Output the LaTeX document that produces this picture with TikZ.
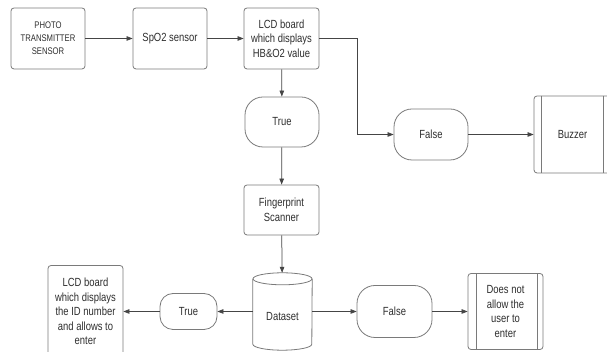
\documentclass[tikz,border=0pt]{standalone}
\usepackage{fontspec}
\setmainfont{Liberation Sans}[FakeStretch=0.8]
\usetikzlibrary{arrows.meta,calc}
\definecolor{txt}{HTML}{2E2E2E}
\definecolor{bline}{HTML}{7A7A7A}
\definecolor{aline}{HTML}{454545}
\begin{document}
\begin{tikzpicture}[x=1pt,y=1pt,
  box/.style={draw=bline,line width=0.8pt,rounded corners=3pt,inner sep=0pt,align=center,text=txt,
     font=\fontsize{11.8}{14.5}\selectfont,minimum width=#1},
  box/.default=75pt,
  term/.style={draw=bline,line width=0.8pt,rounded corners=#1,inner sep=0pt,align=center,text=txt,
     font=\fontsize{11.8}{14.5}\selectfont},
  plain/.style={inner sep=0pt,align=center,text=txt,font=\fontsize{11.8}{14.5}\selectfont},
  arr/.style={draw=aline,line width=0.75pt,-{Triangle[length=6pt,width=4.5pt]}},
  sub/.style={draw=bline,line width=0.8pt}
]
\useasboundingbox (0,0) rectangle (607,352);
\clip (0,0) rectangle (607,352);
\fill[white] (0,0) rectangle (607,352);

% top row
\node[box=74pt,minimum height=61pt,font=\fontsize{9.6}{13}\selectfont] (photo) at (48,313.5) {PHOTO\\TRANSMITTER\\SENSOR};
\node[box=74pt,minimum height=61pt] (spo) at (170,313.5) {SpO2 sensor};
\node[box=75pt,minimum height=61pt] (lcd1) at (281.5,313.5) {LCD board\\which displays\\HB\&O2 value};
\node[term=18pt,minimum width=74pt,minimum height=50pt] (true1) at (282,230) {True};
\node[term=18pt,minimum width=74pt,minimum height=51pt] (false1) at (431,217.5) {False};
\node[box=77pt,minimum height=77pt] (buzz) at (572.5,217.5) {Buzzer};
\draw[sub] ([xshift=8pt]buzz.north west) -- ([xshift=8pt]buzz.south west);
\draw[sub] ([xshift=-8pt]buzz.north east) -- ([xshift=-8pt]buzz.south east);
\node[box=75pt,minimum height=50pt] (finger) at (281.5,142) {Fingerprint\\Scanner};

% dataset cylinder
\node[minimum width=59pt,minimum height=77pt,inner sep=0pt] (ds) at (282.5,40.5) {};
\draw[sub] ([yshift=-6pt]ds.north west) -- ([yshift=6pt]ds.south west)
  arc[start angle=180,end angle=360,x radius=29.5pt,y radius=6pt]
  -- ([yshift=-6pt]ds.north east);
\draw[sub] ([yshift=-6pt]ds.north) ellipse[x radius=29.5pt,y radius=6pt];
\node[plain] (dslabel) at ([yshift=-5pt]ds.center) {Dataset};

% bottom row
\node[term=13pt,minimum width=57pt,minimum height=36pt] (true2) at (188.5,40.5) {True};
\node[box=75pt,minimum height=92pt] (lcd2) at (85.5,40.5) {LCD board\\which displays\\the ID number\\and allows to\\enter};
\node[term=18pt,minimum width=75pt,minimum height=52pt] (false2) at (394.5,40.5) {False};
\node[box=75pt,minimum height=76pt] (deny) at (505.5,40.5) {Does not\\allow the\\user to\\enter};
\draw[sub] ([xshift=9pt]deny.north west) -- ([xshift=9pt]deny.south west);
\draw[sub] ([xshift=-6pt]deny.north east) -- ([xshift=-6pt]deny.south east);

% connectors
\draw[arr] (photo) -- (spo);
\draw[arr] (spo) -- (lcd1);
\draw[arr] (lcd1) -- (true1);
\draw[arr] (true1) -- (finger);
\draw[arr] (finger) -- (ds);
\draw[arr] (lcd1.east) -- ++(38,0) |- (false1.west);
\draw[arr] (false1) -- (buzz);
\draw[arr] (ds) -- (true2);
\draw[arr] (true2) -- (lcd2);
\draw[arr] (ds) -- (false2);
\draw[arr] (false2) -- (deny);
\end{tikzpicture}
\end{document}
